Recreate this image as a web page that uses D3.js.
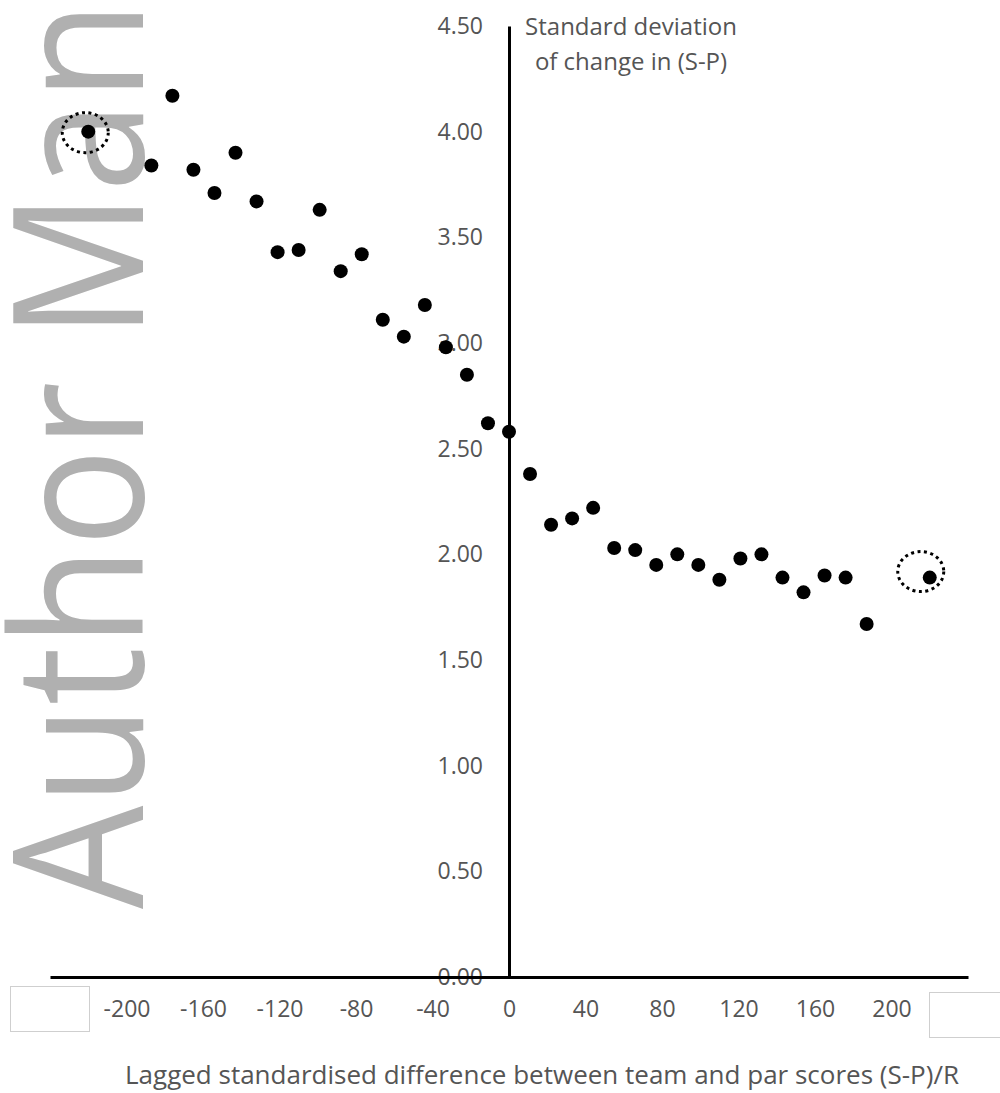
<!DOCTYPE html>
<html>
<head>
<meta charset="utf-8">
<script src="https://cdn.jsdelivr.net/npm/d3@7"></script>
<style>
  body { margin: 0; background: #fff; }
  svg { display: block; font-family: "Open Sans", sans-serif; }
</style>
</head>
<body>
<svg width="1000" height="1093"></svg>
<script>
// lagged standardised difference (S-P)/R
var lagDiff = [-220, -187, -176, -165, -154, -143, -132, -121, -110, -99, -88, -77, -66, -55, -44, -33,
  -22, -11, 0, 11, 22, 33, 44, 55, 66, 77, 88, 99, 110, 121, 132, 143, 154, 165, 176, 187, 220];
// standard deviation of change in (S-P)
var sdChange = [4.00, 3.84, 4.17, 3.82, 3.71, 3.90, 3.67, 3.43, 3.44, 3.63, 3.34, 3.42, 3.11, 3.03, 3.18, 2.98,
  2.85, 2.62, 2.58, 2.38, 2.14, 2.17, 2.22, 2.03, 2.02, 1.95, 2.00, 1.95, 1.88, 1.98, 2.00, 1.89, 1.82, 1.90, 1.89, 1.67, 1.89];
var circled = [-220, 220]; // points marked with a dotted ring
var xTicks = [-200, -160, -120, -80, -40, 0, 40, 80, 120, 160, 200];
var yTicks = [0, 0.5, 1, 1.5, 2, 2.5, 3, 3.5, 4, 4.5];

var svg = d3.select("svg");

var x = d3.scaleLinear().domain([-240, 240]).range([50, 968]);
var y = d3.scaleLinear().domain([0, 4.5]).range([977, 26]);

// watermark behind everything
svg.append("text")
  .attr("transform", "translate(143,909) rotate(-90)")
  .attr("font-size", 182)
  .attr("fill", "#b0b0b0")
  .attr("textLength", 908)
  .attr("lengthAdjust", "spacingAndGlyphs")
  .text("Author Man");

// y axis labels first so the x-axis line runs over "0.00"
var yAxis = svg.append("g")
  .attr("transform", "translate(" + x(0) + ",0)")
  .call(d3.axisLeft(y).tickValues(yTicks).tickSize(0).tickPadding(26)
    .tickFormat(d3.format(".2f")));
yAxis.select(".domain").attr("stroke", "#000").attr("stroke-width", 3);
yAxis.selectAll("text").attr("font-size", 23).attr("fill", "#555")
  .attr("font-family", "Open Sans");

var xAxis = svg.append("g")
  .attr("transform", "translate(0," + y(0) + ")")
  .call(d3.axisBottom(x).tickValues(xTicks).tickSize(0).tickPadding(24)
    .tickFormat(function (d) { return String(d); }));
xAxis.select(".domain").attr("stroke", "#000").attr("stroke-width", 3);
xAxis.selectAll("text").attr("font-size", 23).attr("fill", "#555")
  .attr("font-family", "Open Sans");

// the two blank boxes at the axis ends
svg.append("rect").attr("x", 10.5).attr("y", 986.5).attr("width", 79).attr("height", 45)
  .attr("fill", "#fff").attr("stroke", "#cfcfcf");
svg.append("rect").attr("x", 929.5).attr("y", 992.5).attr("width", 80).attr("height", 45)
  .attr("fill", "#fff").attr("stroke", "#cfcfcf");

// y axis title
var yt = svg.append("text")
  .attr("x", 631)
  .attr("text-anchor", "middle")
  .attr("font-size", 24)
  .attr("fill", "#555");
yt.append("tspan").attr("x", 631).attr("y", 35).text("Standard deviation");
yt.append("tspan").attr("x", 631).attr("y", 70).text("of change in (S-P)");

// x axis title
svg.append("text")
  .attr("x", 542)
  .attr("y", 1084)
  .attr("text-anchor", "middle")
  .attr("font-size", 26)
  .attr("fill", "#555")
  .text("Lagged standardised difference between team and par scores (S-P)/R");

// points
var pts = lagDiff.map(function (d, i) { return { x: d, y: sdChange[i] }; });
svg.selectAll(".dot")
  .data(pts)
  .enter()
  .append("circle")
  .attr("class", "dot")
  .attr("cx", function (d) { return x(d.x); })
  .attr("cy", function (d) { return y(d.y); })
  .attr("r", 7)
  .attr("fill", "#000");

// dotted rings round the end points
svg.selectAll(".ring")
  .data(pts.filter(function (d) { return circled.indexOf(d.x) >= 0; }))
  .enter()
  .append("ellipse")
  .attr("class", "ring")
  .attr("cx", function (d) { return x(d.x) + (d.x > 0 ? -9 : -3); })
  .attr("cy", function (d) { return y(d.y) + (d.x > 0 ? -6 : 1); })
  .attr("rx", 23)
  .attr("ry", 20)
  .attr("fill", "none")
  .attr("stroke", "#000")
  .attr("stroke-width", 3)
  .attr("stroke-dasharray", "3 3.5");
</script>
</body>
</html>
